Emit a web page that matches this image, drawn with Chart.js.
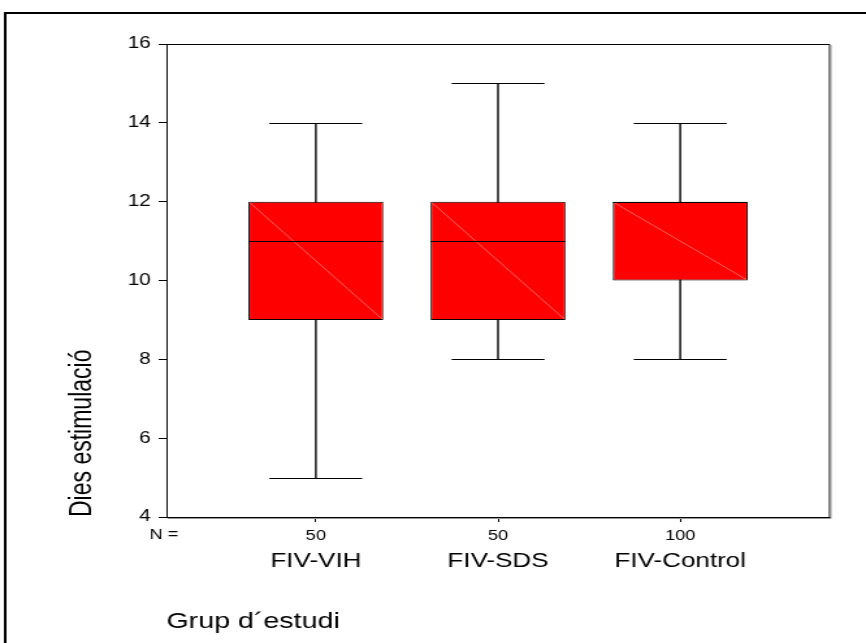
<!DOCTYPE html>
<html>
<head>
<meta charset="utf-8">
<script src="https://cdn.jsdelivr.net/npm/chart.js@4.4.1/dist/chart.umd.min.js"></script>
<style>
  html, body { margin: 0; padding: 0; background: #fff; }
  /* la imatge original està estirada en horitzontal (~1.3x): el canvas també */
  #box { display: block; width: 866px; height: 643px; }
</style>
</head>
<body>
<canvas id="box" width="666" height="643" style="width:866px;height:643px"></canvas>
<script>
// dades del gràfic de caixes
const categories = ['FIV-VIH', 'FIV-SDS', 'FIV-Control'];
const nCounts = [50, 50, 100];
const whiskerLow = [5, 8, 8];
const q1 = [9, 9, 10];
const median = [11, 11, 12];
const q3 = [12, 12, 12];
const whiskerHigh = [14, 15, 14];
const yTicks = [4, 6, 8, 10, 12, 14, 16];
const catPos = [1, 2, 3];

const FONT = 'Arial, "Liberation Sans", sans-serif';

// bigotis, mediana, marc i "N =" (tot sobre les escales del Chart.js)
const boxExtras = {
  id: 'boxExtras',
  beforeDatasetsDraw(chart) {
    const { ctx, scales: { x, y } } = chart;
    ctx.save();
    ctx.strokeStyle = '#000';
    catPos.forEach((p, i) => {
      const cx = x.getPixelForValue(p);
      const half = x.getPixelForValue(p + 0.255) - cx;
      const yLo = Math.round(y.getPixelForValue(whiskerLow[i])) + 0.5;
      const yHi = Math.round(y.getPixelForValue(whiskerHigh[i])) + 0.5;
      // línia vertical una mica més gruixuda (el canvas s'estira en x)
      ctx.lineWidth = 1.4;
      ctx.beginPath();
      ctx.moveTo(cx, yLo); ctx.lineTo(cx, yHi);
      ctx.stroke();
      ctx.lineWidth = 1;
      ctx.beginPath();
      ctx.moveTo(cx - half, yLo); ctx.lineTo(cx + half, yLo);
      ctx.moveTo(cx - half, yHi); ctx.lineTo(cx + half, yHi);
      ctx.stroke();
    });
    ctx.restore();
  },
  afterDatasetsDraw(chart) {
    const { ctx, chartArea: a, scales: { y } } = chart;
    const meta = chart.getDatasetMeta(0);
    ctx.save();
    meta.data.forEach((bar, i) => {
      const l = bar.x - bar.width / 2, r = bar.x + bar.width / 2;
      const top = y.getPixelForValue(q3[i]), bot = y.getPixelForValue(q1[i]);
      // línia diagonal clara dins la caixa
      ctx.strokeStyle = 'rgba(255,150,150,0.8)';
      ctx.lineWidth = 0.8;
      ctx.beginPath();
      ctx.moveTo(l + 1, top + 1); ctx.lineTo(r - 1, bot - 1);
      ctx.stroke();
      // mediana
      const ym = Math.round(y.getPixelForValue(median[i])) + 0.5;
      ctx.strokeStyle = '#000';
      ctx.lineWidth = 1;
      ctx.beginPath();
      ctx.moveTo(l, ym); ctx.lineTo(r, ym);
      ctx.stroke();
    });
    // marc del gràfic (dalt i dreta) amb una ombra grisa
    ctx.strokeStyle = '#000';
    ctx.lineWidth = 1;
    ctx.beginPath();
    ctx.moveTo(a.left, a.top + 0.5); ctx.lineTo(a.right, a.top + 0.5);
    ctx.lineTo(a.right, a.bottom);
    ctx.stroke();
    ctx.strokeStyle = '#999';
    ctx.beginPath();
    ctx.moveTo(a.right + 1, a.top + 1); ctx.lineTo(a.right + 1, a.bottom + 1.5);
    ctx.lineTo(a.left + 1, a.bottom + 1.5);
    ctx.stroke();
    // N =
    ctx.fillStyle = '#000';
    ctx.font = '14px ' + FONT;
    ctx.textAlign = 'left';
    ctx.textBaseline = 'middle';
    ctx.fillText('N =', a.left - 13, a.bottom + 18);
    ctx.restore();
  },
  afterDraw(chart) {
    const { ctx, width, height } = chart;
    ctx.save();
    ctx.strokeStyle = '#000';
    ctx.lineWidth = 2;
    ctx.beginPath();
    ctx.moveTo(4, height); ctx.lineTo(4, 13); ctx.lineTo(width, 13);
    ctx.stroke();
    ctx.restore();
  }
};

new Chart(document.getElementById('box'), {
  type: 'bar',
  data: {
    datasets: [{
      data: catPos.map((p, i) => ({ x: p, y: [q1[i], q3[i]] })),
      backgroundColor: '#ff0000',
      borderColor: '#000',
      borderWidth: 1,
      borderSkipped: false,
      barPercentage: 0.74,
      categoryPercentage: 1
    }]
  },
  options: {
    responsive: false,
    animation: false,
    events: [],
    devicePixelRatio: 1,
    layout: { padding: { top: 44, right: 28, left: 0, bottom: 0 } },
    plugins: {
      legend: { display: false },
      tooltip: { enabled: false }
    },
    scales: {
      y: {
        min: 4,
        max: 16,
        afterBuildTicks: (s) => { s.ticks = yTicks.map(v => ({ value: v })); },
        afterFit: (s) => { s.width = 128; },
        grid: { drawOnChartArea: false, drawTicks: true, tickLength: 6, color: '#000' },
        border: { display: true, color: '#000', width: 1 },
        ticks: { color: '#000', padding: 6, font: { family: FONT, size: 16 } },
        title: {
          display: true,
          text: 'Dies estimulació',
          align: 'start',
          color: '#000',
          font: { family: FONT, size: 23 },
          padding: { top: 50, bottom: 0 }
        }
      },
      x: {
        type: 'linear',
        min: 0.18,
        max: 3.82,
        offset: false,
        weight: 1,
        afterBuildTicks: (s) => { s.ticks = catPos.map(v => ({ value: v })); },
        afterFit: (s) => { s.height = 28; },
        grid: { offset: false, drawOnChartArea: false, drawTicks: true, tickLength: 5, color: '#000' },
        border: { display: true, color: '#000', width: 1 },
        ticks: {
          color: '#000',
          padding: 6,
          maxRotation: 0,
          font: { family: FONT, size: 14 },
          callback: (v) => nCounts[catPos.indexOf(v)]
        }
      },
      x2: {
        type: 'linear',
        position: 'bottom',
        min: 0.18,
        max: 3.82,
        offset: false,
        weight: 2,
        afterBuildTicks: (s) => { s.ticks = catPos.map(v => ({ value: v })); },
        afterFit: (s) => { s.height = 643 - 517 - 28; },
        grid: { display: false, drawTicks: false },
        border: { display: false },
        ticks: {
          color: '#000',
          padding: 4,
          maxRotation: 0,
          font: { family: FONT, size: 20 },
          callback: (v) => categories[catPos.indexOf(v)]
        },
        title: {
          display: true,
          text: 'Grup d´estudi',
          align: 'start',
          color: '#000',
          font: { family: FONT, size: 22 },
          padding: { top: 0, bottom: 8 }
        }
      }
    }
  },
  plugins: [boxExtras]
});
</script>
</body>
</html>
